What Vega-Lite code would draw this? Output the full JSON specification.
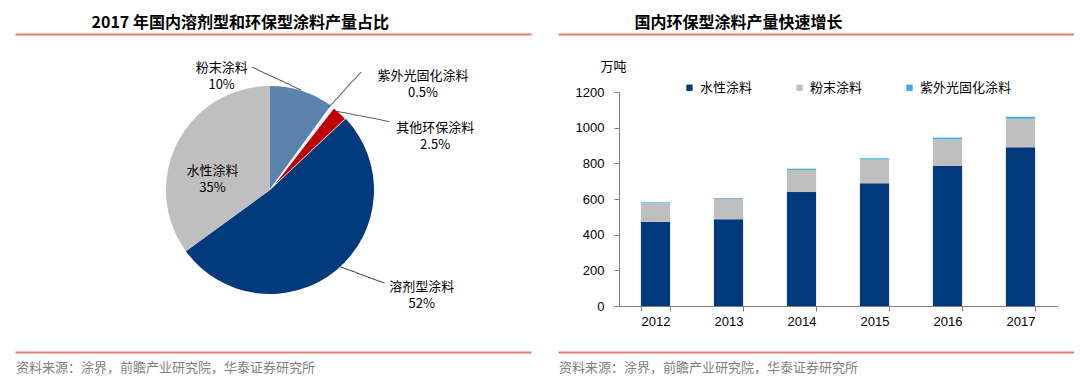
{
  "$schema": "https://vega.github.io/schema/vega-lite/v6.json",
  "background": "white",
  "padding": {"left": 15, "top": 14, "right": 0, "bottom": 0},
  "spacing": 13,
  "config": {
    "view": {"stroke": null},
    "font": "Noto Sans CJK SC",
    "axis": {"labelFont": "Liberation Sans", "labelFontSize": 13, "labelColor": "#000000", "domainColor": "#7f7f7f", "tickColor": "#7f7f7f"}
  },
  "resolve": {"scale": {"color": "independent", "x": "independent", "y": "independent"}, "legend": {"color": "independent"}},
  "vconcat": [
    {
      "bounds": "flush",
      "spacing": 27,
      "hconcat": [
        {
          "width": 516, "height": 1,
          "data": {"values": [{"d": 0}]},
          "mark": {"type": "point", "opacity": 0},
          "encoding": {"x": {"field": "d", "type": "quantitative", "axis": {"orient": "top", "domainColor": "#E47C6E", "domainWidth": 2, "ticks": false, "labels": false, "grid": false, "minExtent": 0, "maxExtent": 0,
            "title": "2017 年国内溶剂型和环保型涂料产量占比", "titleX": 76, "titleY": -11.5, "titleAlign": "left", "titleBaseline": "middle", "titleAngle": 0, "titleFontSize": 16, "titleFontWeight": "bold", "titleFont": "Noto Sans CJK SC", "titleColor": "#000000"}}}
        },
        {
          "width": 516, "height": 1,
          "data": {"values": [{"d": 0}]},
          "mark": {"type": "point", "opacity": 0},
          "encoding": {"x": {"field": "d", "type": "quantitative", "axis": {"orient": "top", "domainColor": "#E47C6E", "domainWidth": 2, "ticks": false, "labels": false, "grid": false, "minExtent": 0, "maxExtent": 0,
            "title": "国内环保型涂料产量快速增长", "titleX": 76, "titleY": -11.5, "titleAlign": "left", "titleBaseline": "middle", "titleAngle": 0, "titleFontSize": 16, "titleFontWeight": "bold", "titleFont": "Noto Sans CJK SC", "titleColor": "#000000"}}}
        }
      ]
    },
    {
      "bounds": "flush",
      "spacing": 94,
      "resolve": {"scale": {"color": "independent"}, "legend": {"color": "independent"}},
      "hconcat": [
        {
          "width": 510, "height": 196,
          "data": {"values": [
            {"segment": "粉末涂料", "share": 10, "rank": 1, "label": "粉末涂料\n10%"},
            {"segment": "紫外光固化涂料", "share": 0.5, "rank": 2, "label": "紫外光固化涂料\n0.5%"},
            {"segment": "其他环保涂料", "share": 2.5, "rank": 3, "label": "其他环保涂料\n2.5%"},
            {"segment": "溶剂型涂料", "share": 52, "rank": 4, "label": "溶剂型涂料\n52%"},
            {"segment": "水性涂料", "share": 35, "rank": 5, "label": "水性涂料\n35%"}
          ]},
          "encoding": {
            "theta": {"field": "share", "type": "quantitative", "stack": true},
            "order": {"field": "rank", "type": "quantitative"}
          },
          "layer": [
            {
              "mark": {"type": "arc", "outerRadius": 104, "stroke": "#ffffff"},
              "encoding": {
                "color": {"field": "segment", "type": "nominal", "legend": null,
                  "scale": {"domain": ["粉末涂料", "紫外光固化涂料", "其他环保涂料", "溶剂型涂料", "水性涂料"], "range": ["#5B81AD", "#FFFFFF", "#C00000", "#003A7D", "#BFBFBF"]}},
                "strokeWidth": {"condition": {"test": "datum.rank == 2 || datum.rank == 3", "value": 1.2}, "value": 0}
              }
            },
            {
              "mark": {"type": "text", "radius": 111, "angle": 25, "dx": -27.5, "dy": 6.9, "font": "DejaVu Sans Mono", "fontSize": 10, "align": "center", "baseline": "middle", "color": "#404040"},
              "encoding": {"text": {"condition": {"test": "datum.rank == 1", "value": "─────────"}, "value": ""}}
            },
            {
              "mark": {"type": "text", "radius": 125, "angle": -47.6, "dx": 0, "dy": 0, "font": "DejaVu Sans Mono", "fontSize": 10, "align": "center", "baseline": "middle", "color": "#404040"},
              "encoding": {"text": {"condition": {"test": "datum.rank == 2", "value": "────────"}, "value": ""}}
            },
            {
              "mark": {"type": "text", "radius": 118, "angle": 11, "dx": 15.5, "dy": 11.2, "font": "DejaVu Sans Mono", "fontSize": 10, "align": "center", "baseline": "middle", "color": "#404040"},
              "encoding": {"text": {"condition": {"test": "datum.rank == 3", "value": "─────────"}, "value": ""}}
            },
            {
              "mark": {"type": "text", "radius": 125, "angle": 20.4, "dx": 7.5, "dy": -14.6, "font": "DejaVu Sans Mono", "fontSize": 10, "align": "center", "baseline": "middle", "color": "#404040"},
              "encoding": {"text": {"condition": {"test": "datum.rank == 4", "value": "────────"}, "value": ""}}
            },
            {
              "mark": {"type": "text", "radius": 125, "dx": -87, "dy": -3, "lineBreak": "\n", "fontSize": 13, "align": "center", "baseline": "middle", "lineHeight": 17, "color": "#000000"},
              "encoding": {"text": {"condition": {"test": "datum.rank == 1", "field": "label"}, "value": ""}}
            },
            {
              "mark": {"type": "text", "radius": 125, "dx": 78, "dy": -14, "lineBreak": "\n", "fontSize": 13, "align": "center", "baseline": "middle", "lineHeight": 17, "color": "#000000"},
              "encoding": {"text": {"condition": {"test": "datum.rank == 2", "field": "label"}, "value": ""}}
            },
            {
              "mark": {"type": "text", "radius": 125, "dx": 81, "dy": 30, "lineBreak": "\n", "fontSize": 13, "align": "center", "baseline": "middle", "lineHeight": 17, "color": "#000000"},
              "encoding": {"text": {"condition": {"test": "datum.rank == 3", "field": "label"}, "value": ""}}
            },
            {
              "mark": {"type": "text", "radius": 125, "dx": 72, "dy": 1, "lineBreak": "\n", "fontSize": 13, "align": "center", "baseline": "middle", "lineHeight": 17, "color": "#000000"},
              "encoding": {"text": {"condition": {"test": "datum.rank == 4", "field": "label"}, "value": ""}}
            },
            {
              "mark": {"type": "text", "radius": 60, "dx": -4, "dy": 8, "lineBreak": "\n", "fontSize": 13, "align": "center", "baseline": "middle", "lineHeight": 17, "color": "#000000"},
              "encoding": {"text": {"condition": {"test": "datum.rank == 5", "field": "label"}, "value": ""}}
            }
          ]
        },
        {
          "width": 438, "height": 214,
          "data": {"values": [
            {"year": "2012", "type": "水性涂料", "k": 1, "value": 473},
            {"year": "2012", "type": "粉末涂料", "k": 2, "value": 103},
            {"year": "2012", "type": "紫外光固化涂料", "k": 3, "value": 5},
            {"year": "2013", "type": "水性涂料", "k": 1, "value": 486},
            {"year": "2013", "type": "粉末涂料", "k": 2, "value": 114},
            {"year": "2013", "type": "紫外光固化涂料", "k": 3, "value": 4},
            {"year": "2014", "type": "水性涂料", "k": 1, "value": 639},
            {"year": "2014", "type": "粉末涂料", "k": 2, "value": 124},
            {"year": "2014", "type": "紫外光固化涂料", "k": 3, "value": 7},
            {"year": "2015", "type": "水性涂料", "k": 1, "value": 688},
            {"year": "2015", "type": "粉末涂料", "k": 2, "value": 134},
            {"year": "2015", "type": "紫外光固化涂料", "k": 3, "value": 6},
            {"year": "2016", "type": "水性涂料", "k": 1, "value": 787},
            {"year": "2016", "type": "粉末涂料", "k": 2, "value": 148},
            {"year": "2016", "type": "紫外光固化涂料", "k": 3, "value": 9},
            {"year": "2017", "type": "水性涂料", "k": 1, "value": 890},
            {"year": "2017", "type": "粉末涂料", "k": 2, "value": 160},
            {"year": "2017", "type": "紫外光固化涂料", "k": 3, "value": 11}
          ]},
          "mark": {"type": "bar"},
          "encoding": {
            "x": {"field": "year", "type": "ordinal", "scale": {"paddingInner": 0.6, "paddingOuter": 0.3},
              "axis": {"title": null, "labelAngle": 0, "tickBand": "extent", "tickSize": 5, "labelPadding": 4, "domainColor": "#7f7f7f"}},
            "y": {"field": "value", "type": "quantitative", "stack": "zero", "scale": {"domain": [0, 1200], "nice": false},
              "axis": {"values": [0, 200, 400, 600, 800, 1000, 1200], "format": "d", "grid": false, "tickSize": 5, "labelPadding": 10,
                "title": "万吨", "titleAngle": 0, "titleX": -6, "titleY": -26, "titleAlign": "center", "titleBaseline": "middle", "titleFont": "Noto Sans CJK SC", "titleFontWeight": "normal", "titleFontSize": 13, "titleColor": "#000000"}},
            "color": {"field": "type", "type": "nominal",
              "scale": {"domain": ["水性涂料", "粉末涂料", "紫外光固化涂料"], "range": ["#003A7D", "#BFBFBF", "#3AADE0"]},
              "legend": {"title": null, "orient": "none", "direction": "horizontal", "legendX": 64, "legendY": -11, "symbolType": "square", "symbolSize": 40, "symbolStrokeWidth": 0, "labelFont": "Noto Sans CJK SC", "labelFontSize": 13, "labelColor": "#000000", "labelOffset": 4, "columnPadding": 40}},
            "order": {"field": "k", "type": "quantitative"}
          }
        }
      ]
    },
    {
      "bounds": "flush",
      "spacing": 27,
      "hconcat": [
        {
          "width": 516, "height": 11,
          "title": {"text": "资料来源：涂界，前瞻产业研究院，华泰证券研究所", "orient": "bottom", "anchor": "start", "dx": 1, "offset": 10, "baseline": "top", "fontSize": 13, "fontWeight": "normal", "font": "Noto Sans CJK SC", "color": "#7f7f7f"},
          "data": {"values": [{"d": 0}]},
          "mark": {"type": "point", "opacity": 0},
          "encoding": {"x": {"field": "d", "type": "quantitative", "axis": {"orient": "bottom", "domainColor": "#E47C6E", "domainWidth": 2, "ticks": false, "labels": false, "grid": false, "title": null, "minExtent": 0, "maxExtent": 0}}}
        },
        {
          "width": 516, "height": 11,
          "title": {"text": "资料来源：涂界，前瞻产业研究院，华泰证券研究所", "orient": "bottom", "anchor": "start", "dx": 1, "offset": 10, "baseline": "top", "fontSize": 13, "fontWeight": "normal", "font": "Noto Sans CJK SC", "color": "#7f7f7f"},
          "data": {"values": [{"d": 0}]},
          "mark": {"type": "point", "opacity": 0},
          "encoding": {"x": {"field": "d", "type": "quantitative", "axis": {"orient": "bottom", "domainColor": "#E47C6E", "domainWidth": 2, "ticks": false, "labels": false, "grid": false, "title": null, "minExtent": 0, "maxExtent": 0}}}
        }
      ]
    }
  ]
}
